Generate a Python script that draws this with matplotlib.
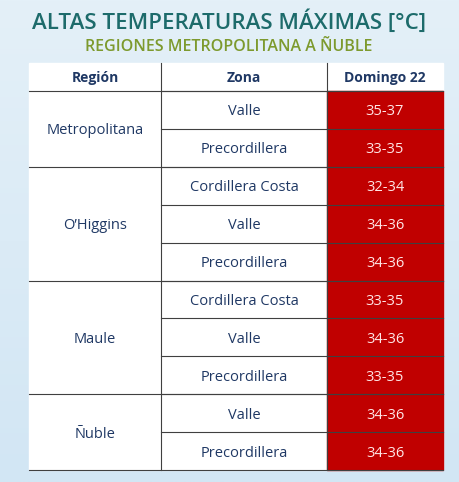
import matplotlib
matplotlib.use("Agg")
import matplotlib.pyplot as plt
import numpy as np
from matplotlib.colors import LinearSegmentedColormap

title = "ALTAS TEMPERATURAS MÁXIMAS [°C]"
subtitle = "REGIONES METROPOLITANA A ÑUBLE"
headers = ["Región", "Zona", "Domingo 22"]
regions = ["Metropolitana", "O’Higgins", "Maule", "Ñuble"]
region_counts = [2, 3, 3, 2]
zones = ["Valle", "Precordillera", "Cordillera Costa", "Valle", "Precordillera",
         "Cordillera Costa", "Valle", "Precordillera", "Valle", "Precordillera"]
values = ["35-37", "33-35", "32-34", "34-36", "34-36", "33-35", "34-36", "33-35", "34-36", "34-36"]

plt.rcParams['font.family'] = ['Open Sans', 'DejaVu Sans']
fig = plt.figure(figsize=(4.59, 4.82), dpi=100)
ax = fig.add_axes([0, 0, 1, 1])
ax.set_xlim(0, 459); ax.set_ylim(482, 0); ax.axis('off')

grad = np.linspace(0, 1, 256).reshape(-1, 1)
cm = LinearSegmentedColormap.from_list('bg', ['#e4f0f8', '#d2e6f4'])
ax.imshow(grad, extent=[0, 459, 482, 0], cmap=cm, aspect='auto', zorder=0)

ax.text(229, 22, title, ha='center', va='center', fontsize=16, fontweight='semibold', color='#1d6b6b')
ax.text(229, 47, subtitle, ha='center', va='center', fontsize=11.5, fontweight='semibold', color='#7d9a2e')

x0, x1, x2, x3 = 29, 161, 327, 443
ytop, yh = 63, 91
rh = (470 - yh) / len(zones)
ax.add_patch(plt.Rectangle((x0, ytop), x3 - x0, 470 - ytop, color='white', zorder=1))
for i, h in enumerate(headers):
    cx = [(x0 + x1) / 2, (x1 + x2) / 2, (x2 + x3) / 2][i]
    ax.text(cx, (ytop + yh) / 2 + 1, h, ha='center', va='center', fontsize=10,
            fontweight='bold', color='#1f3864', zorder=3)
for i, (z, v) in enumerate(zip(zones, values)):
    y = yh + i * rh
    ax.add_patch(plt.Rectangle((x2, y), x3 - x2, rh, color='#c00000', zorder=2))
    ax.text((x1 + x2) / 2, y + rh / 2 + 2, z, ha='center', va='center', fontsize=10.5, color='#1f3864', zorder=3)
    ax.text((x2 + x3) / 2, y + rh / 2 + 2, v, ha='center', va='center', fontsize=10.5, color='#ffe6e6', zorder=3)
    ax.plot([x1, x3], [y, y], color='#404040', lw=0.8, zorder=4)
start = 0
for r, c in zip(regions, region_counts):
    y = yh + start * rh
    ax.plot([x0, x3], [y, y], color='#404040', lw=0.8, zorder=4)
    ax.text((x0 + x1) / 2, y + c * rh / 2 + 2, r, ha='center', va='center', fontsize=10.5, color='#1f3864', zorder=3)
    start += c
ax.plot([x0, x3], [470, 470], color='#404040', lw=0.8, zorder=4)
for x in [x1, x2]:
    ax.plot([x, x], [ytop, 470], color='#404040', lw=0.8, zorder=4)
fig.savefig("out.png", dpi=100)
